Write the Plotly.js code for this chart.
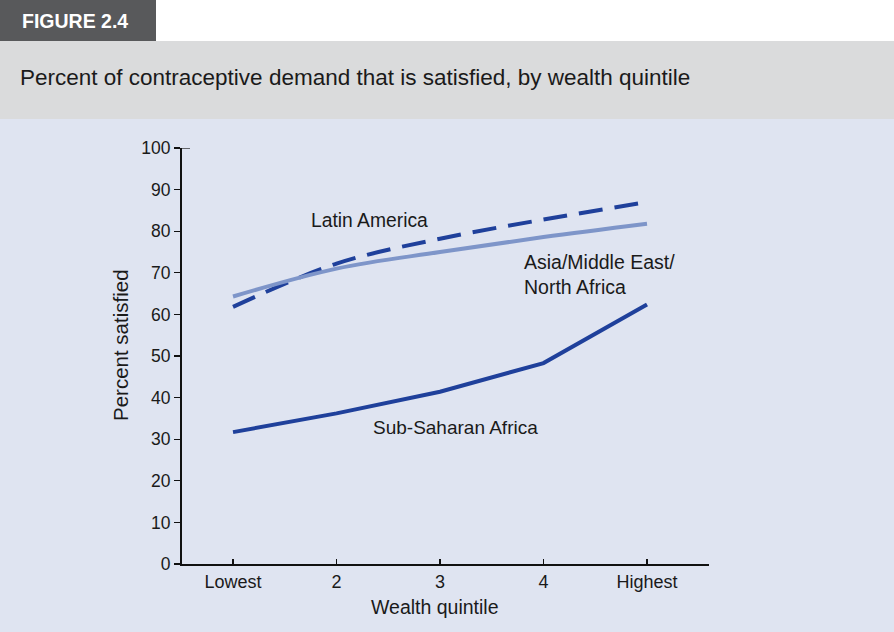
<!DOCTYPE html>
<html>
<head>
<meta charset="utf-8">
<script src="https://cdn.plot.ly/plotly-3.0.1.min.js"></script>
<style>
html,body{margin:0;padding:0;background:#ffffff;}
#chart{width:894px;height:632px;}
</style>
</head>
<body>
<div id="chart"></div>
<script>
// ---- Data ----
var quintiles = ['Lowest', '2', '3', '4', 'Highest'];
var latinAmerica = [61.8, 72.2, 78.2, 82.8, 87.0];
var asiaMENA = [64.3, 71.0, 75.0, 78.6, 81.8];
var subSaharan = [31.7, 36.2, 41.4, 48.3, 62.4];
var yTicks = [0, 10, 20, 30, 40, 50, 60, 70, 80, 90, 100];

var darkBlue = '#1f409b';
var lightBlue = '#7e95c9';
var bgBlue = '#dfe4f1';
var font = 'Liberation Sans, Arial, sans-serif';

var traces = [
  {x: quintiles, y: latinAmerica, type: 'scatter', mode: 'lines', name: 'Latin America',
   line: {color: darkBlue, width: 4, dash: '24px,12px', shape: 'spline', smoothing: 1}},
  {x: quintiles, y: asiaMENA, type: 'scatter', mode: 'lines', name: 'Asia/Middle East/North Africa',
   line: {color: lightBlue, width: 4, shape: 'spline', smoothing: 1}},
  {x: quintiles, y: subSaharan, type: 'scatter', mode: 'lines', name: 'Sub-Saharan Africa',
   line: {color: darkBlue, width: 4}}
];

// plot area in pixels: x 182..709, y 148..564
var L = 182, R = 709, T = 148, B = 564;
function px(x) { return (x - L) / (R - L); }
function py(y) { return (B - y) / (B - T); }

var layout = {
  width: 894, height: 632,
  margin: {l: L, r: 894 - R, t: T, b: 632 - B, pad: 0},
  paper_bgcolor: bgBlue,
  plot_bgcolor: bgBlue,
  showlegend: false,
  font: {family: font, color: '#1a1a1a', size: 18},
  xaxis: {
    type: 'category',
    range: [-0.493, 4.599],
    showgrid: false, zeroline: false,
    showline: true, linecolor: '#111', linewidth: 2,
    ticks: 'inside', ticklen: 5, tickwidth: 1.2, tickcolor: '#111',
    tickfont: {family: font, size: 18, color: '#1a1a1a'},
    fixedrange: true
  },
  yaxis: {
    range: [0, 100],
    tickvals: yTicks,
    showgrid: false, zeroline: false,
    showline: true, linecolor: '#111', linewidth: 2,
    ticks: 'outside', ticklen: 6, tickwidth: 1.2, tickcolor: '#111',
    tickfont: {family: font, size: 17.5, color: '#1a1a1a'},
    fixedrange: true
  },
  shapes: [
    {type: 'rect', xref: 'paper', yref: 'paper', x0: px(-5), x1: px(900), y0: py(41), y1: py(-5),
     fillcolor: '#ffffff', line: {width: 0}, layer: 'below'},
    {type: 'rect', xref: 'paper', yref: 'paper', x0: px(-5), x1: px(900), y0: py(119), y1: py(41),
     fillcolor: '#dadbdc', line: {width: 0}, layer: 'below'},
    {type: 'rect', xref: 'paper', yref: 'paper', x0: px(-5), x1: px(156), y0: py(41), y1: py(-5),
     fillcolor: '#58595b', line: {width: 0}, layer: 'below'},
    {type: 'line', xref: 'paper', yref: 'y', x0: px(181), x1: px(190), y0: 100, y1: 100,
     line: {color: '#111', width: 1.2}}
  ],
  annotations: [
    {xref: 'paper', yref: 'paper', x: px(20), y: py(21), xanchor: 'left', yanchor: 'middle',
     text: '<b>FIGURE 2.4</b>', showarrow: false, font: {family: font, size: 19.5, color: '#ffffff'}},
    {xref: 'paper', yref: 'paper', x: px(18), y: py(77), xanchor: 'left', yanchor: 'middle',
     text: 'Percent of contraceptive demand that is satisfied, by wealth quintile', showarrow: false,
     font: {family: font, size: 22.5, color: '#1a1a1a'}},
    {xref: 'paper', yref: 'paper', x: px(120), y: py(345), xanchor: 'center', yanchor: 'middle',
     text: 'Percent satisfied', textangle: -90, showarrow: false, font: {family: font, size: 20.5}},
    {xref: 'paper', yref: 'paper', x: px(435), y: py(607), xanchor: 'center', yanchor: 'middle',
     text: 'Wealth quintile', showarrow: false, font: {family: font, size: 19.5}},
    {xref: 'paper', yref: 'paper', x: px(369), y: py(220), xanchor: 'center', yanchor: 'middle',
     text: 'Latin America', showarrow: false, font: {family: font, size: 19.3}},
    {xref: 'paper', yref: 'paper', x: px(522), y: py(274), xanchor: 'left', yanchor: 'middle', align: 'left',
     text: 'Asia/Middle East/<br>North Africa', showarrow: false, font: {family: font, size: 19.5}},
    {xref: 'paper', yref: 'paper', x: px(455), y: py(427), xanchor: 'center', yanchor: 'middle',
     text: 'Sub-Saharan Africa', showarrow: false, font: {family: font, size: 19}}
  ]
};

Plotly.newPlot('chart', traces, layout, {displayModeBar: false, staticPlot: true});
</script>
</body>
</html>
